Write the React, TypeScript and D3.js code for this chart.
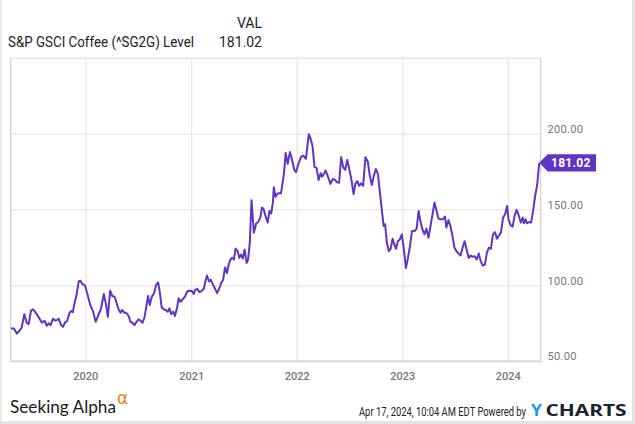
import React from "react";
import * as d3 from "d3";

const dates: string[] = [
  "2019-04-17","2019-04-27","2019-05-07","2019-05-16","2019-05-24","2019-06-02","2019-06-10","2019-06-17","2019-06-25","2019-07-02",
  "2019-07-12","2019-07-24","2019-08-02","2019-08-11","2019-08-19","2019-08-25","2019-09-01","2019-09-09","2019-09-16","2019-09-23",
  "2019-09-29","2019-10-07","2019-10-14","2019-10-21","2019-10-28","2019-11-05","2019-11-11","2019-11-17","2019-11-22","2019-11-30",
  "2019-12-07","2019-12-13","2019-12-20","2019-12-29","2020-01-08","2020-01-17","2020-01-26","2020-02-04","2020-02-13","2020-02-22",
  "2020-03-03","2020-03-11","2020-03-17","2020-03-25","2020-04-01","2020-04-09","2020-04-15","2020-04-23","2020-04-30","2020-05-05",
  "2020-05-14","2020-05-22","2020-05-29","2020-06-03","2020-06-10","2020-06-17","2020-06-24","2020-07-01","2020-07-08","2020-07-15",
  "2020-07-22","2020-07-29","2020-08-03","2020-08-09","2020-08-16","2020-08-23","2020-08-31","2020-09-07","2020-09-14","2020-09-19",
  "2020-09-26","2020-10-03","2020-10-10","2020-10-16","2020-10-22","2020-10-29","2020-11-04","2020-11-11","2020-11-17","2020-11-23",
  "2020-12-01","2020-12-09","2020-12-16","2020-12-24","2021-01-02","2021-01-08","2021-01-13","2021-01-20","2021-01-28","2021-02-05",
  "2021-02-12","2021-02-16","2021-02-23","2021-03-02","2021-03-08","2021-03-16","2021-03-23","2021-03-30","2021-04-07","2021-04-13",
  "2021-04-20","2021-04-26","2021-05-03","2021-05-09","2021-05-15","2021-05-21","2021-05-27","2021-06-02","2021-06-09","2021-06-15",
  "2021-06-21","2021-06-27","2021-07-03","2021-07-10","2021-07-15","2021-07-21","2021-07-27","2021-08-04","2021-08-12","2021-08-20",
  "2021-08-27","2021-09-01","2021-09-07","2021-09-13","2021-09-21","2021-09-27","2021-10-03","2021-10-09","2021-10-12","2021-10-18",
  "2021-10-26","2021-11-06","2021-11-16","2021-11-22","2021-11-29","2021-12-07","2021-12-14","2021-12-22","2021-12-28","2022-01-05",
  "2022-01-14","2022-01-21","2022-01-31","2022-02-10","2022-02-16","2022-02-23","2022-03-02","2022-03-09","2022-03-16","2022-03-23",
  "2022-03-28","2022-04-03","2022-04-09","2022-04-14","2022-04-20","2022-04-26","2022-05-04","2022-05-12","2022-05-19","2022-05-26",
  "2022-06-02","2022-06-09","2022-06-16","2022-06-23","2022-06-30","2022-07-07","2022-07-15","2022-07-21","2022-07-28","2022-08-03",
  "2022-08-10","2022-08-17","2022-08-25","2022-09-02","2022-09-09","2022-09-16","2022-09-23","2022-09-30","2022-10-07","2022-10-14",
  "2022-10-21","2022-10-27","2022-11-01","2022-11-07","2022-11-14","2022-11-20","2022-11-27","2022-12-04","2022-12-09","2022-12-15",
  "2022-12-22","2022-12-29","2023-01-05","2023-01-12","2023-01-19","2023-01-26","2023-02-02","2023-02-11","2023-02-18","2023-02-25",
  "2023-03-03","2023-03-10","2023-03-17","2023-03-24","2023-03-31","2023-04-07","2023-04-14","2023-04-21","2023-04-28","2023-05-05",
  "2023-05-12","2023-05-20","2023-05-27","2023-06-01","2023-06-08","2023-06-15","2023-06-22","2023-06-29","2023-07-06","2023-07-13",
  "2023-07-20","2023-07-27","2023-08-03","2023-08-10","2023-08-17","2023-08-24","2023-08-31","2023-09-07","2023-09-14","2023-09-21",
  "2023-09-28","2023-10-05","2023-10-12","2023-10-19","2023-10-26","2023-11-02","2023-11-09","2023-11-16","2023-11-23","2023-11-30",
  "2023-12-07","2023-12-14","2023-12-21","2023-12-28","2024-01-02","2024-01-09","2024-01-16","2024-01-23","2024-01-30","2024-02-06",
  "2024-02-13","2024-02-20","2024-02-24","2024-03-01","2024-03-06","2024-03-13","2024-03-20","2024-03-27","2024-04-03","2024-04-10",
  "2024-04-17"
];

const values: number[] = [
  71.7,71.7,68.4,70.1,72.4,81.2,75.5,74.6,83.4,84.4,
  82.1,78.4,75.5,76.8,73.5,75.1,73.9,78.1,77.0,77.3,
  78.1,73.9,72.8,75.7,76.6,81.8,83.3,82.4,87.9,93.9,
  102.7,103.2,101.0,100.1,93.2,86.8,82.8,76.1,80.6,84.4,
  94.5,87.2,79.4,96.7,93.2,92.7,89.4,84.4,82.1,83.9,
  82.1,81.7,79.4,76.1,75.5,73.9,76.1,77.7,76.8,75.5,
  79.4,87.2,93.2,87.2,92.7,94.5,100.5,102.1,93.9,85.7,
  84.4,83.9,82.8,85.0,81.2,82.8,79.9,85.0,91.7,89.4,
  91.0,92.7,96.1,96.6,96.5,94.4,97.2,97.9,95.7,96.6,
  97.9,101.7,106.7,102.7,103.9,100.5,97.9,95.0,98.3,101.7,
  103.9,112.0,108.3,113.9,117.2,118.3,117.2,124.5,122.7,118.3,
  120.5,117.8,123.8,115.0,117.2,128.3,156.4,134.9,141.0,142.2,
  145.3,151.6,150.4,146.0,141.6,149.3,147.6,154.9,164.9,158.6,
  160.9,160.9,173.7,187.5,180.4,188.2,183.0,176.4,174.8,180.4,
  184.8,185.9,183.7,199.9,197.0,191.9,178.2,177.7,169.7,174.2,
  171.9,173.7,175.9,173.7,170.4,167.1,170.4,169.7,168.2,167.9,
  184.8,178.2,176.4,183.0,177.0,170.4,160.4,167.1,168.9,165.9,
  167.5,165.9,184.8,182.0,172.6,166.4,172.6,177.0,173.7,161.5,
  149.3,139.3,140.5,128.3,122.7,124.3,130.9,126.5,124.3,129.3,
  130.5,133.8,123.8,111.6,118.3,126.0,136.0,136.0,137.6,149.3,
  142.6,137.1,133.8,137.6,131.6,139.3,147.1,154.9,149.3,144.2,
  143.8,143.8,145.6,138.3,143.3,139.3,132.7,125.0,122.7,121.2,
  119.9,125.0,129.3,123.8,118.3,119.9,119.0,119.4,117.2,121.2,
  116.0,113.2,113.8,121.6,125.0,124.3,133.8,135.3,130.9,133.1,
  135.3,144.9,147.1,152.6,143.8,139.8,138.9,146.0,150.0,146.4,
  141.6,144.9,141.1,143.8,141.1,142.0,141.6,149.3,159.3,166.4,
  181.02
];

const yTicks: number[] = [50, 100, 150, 200];
const xTickYears: string[] = ["2020", "2021", "2022", "2023", "2024"];
const seriesName = "S&P GSCI Coffee (^SG2G) Level";
const lastValueLabel = "181.02";

const W = 635;
const H = 424;
const plot = { left: 10.7, right: 540.7, top: 58.3, bottom: 361.4 };
const LINE = "#6034c6";

export default function App() {
  const parse = d3.timeParse("%Y-%m-%d");
  const data = dates.map((d, i) => ({ date: parse(d) as Date, value: values[i] }));
  const x = d3
    .scaleTime()
    .domain([parse("2019-04-17") as Date, parse("2024-04-17") as Date])
    .range([plot.left + 0.3, plot.right - 1.5]);
  const y = d3.scaleLinear().domain([50, 250]).range([plot.bottom, plot.top]);
  const line = d3
    .line<{ date: Date; value: number }>()
    .x((d) => x(d.date))
    .y((d) => y(d.value));
  const last = data[data.length - 1];
  const lx = x(last.date);
  const ly = y(last.value);

  const font = "Roboto, 'Noto Sans', sans-serif";
  const sx = 0.74;

  return (
    <svg
      width={W}
      height={H}
      style={{ position: "absolute", left: 0, top: 0, background: "#fff" }}
      fontFamily={font}
    >
      <rect x={0} y={0} width={W} height={H} fill="#fff" />
      {/* outer frame */}
      <line x1={0.75} y1={0} x2={0.75} y2={H} stroke="#e3e3e3" strokeWidth={1.5} />
      <line x1={W - 1.5} y1={0} x2={W - 1.5} y2={H} stroke="#e3e3e3" strokeWidth={3} />
      <line x1={0} y1={H - 1.5} x2={W} y2={H - 1.5} stroke="#e3e3e3" strokeWidth={3} />

      {/* header */}
      <text x={262} y={27.5} textAnchor="end" fontSize={14} fill="#222">VAL</text>
      <text x={8} y={46.5} fontSize={14} fill="#222" textLength={186} lengthAdjust="spacingAndGlyphs">{seriesName}</text>
      <text x={262} y={46.5} textAnchor="end" fontSize={14} fill="#222">{lastValueLabel}</text>

      {/* horizontal grid */}
      {yTicks.filter((t) => t > 50).map((t) => (
        <line key={t} x1={plot.left} x2={plot.right} y1={y(t)} y2={y(t)} stroke="#ebebeb" strokeWidth={1.5} />
      ))}
      <line x1={plot.left} x2={plot.right} y1={plot.top} y2={plot.top} stroke="#e6e6e6" strokeWidth={1.5} />
      {/* vertical grid */}
      {xTickYears.map((yr) => {
        const xv = x(parse(`${yr}-01-01`) as Date);
        return (
          <line key={yr} x1={xv} x2={xv} y1={plot.top} y2={plot.bottom} stroke="#e6e6e6" strokeWidth={1.2} />
        );
      })}
      {/* borders */}
      <line x1={plot.left} x2={plot.left} y1={plot.top} y2={plot.bottom} stroke="#cfcfcf" strokeWidth={1.2} />
      <line x1={plot.right} x2={plot.right} y1={plot.top} y2={plot.bottom + 1} stroke="#cfcfcf" strokeWidth={1.2} />
      <line x1={plot.left} x2={plot.right} y1={plot.bottom} y2={plot.bottom} stroke="#d2d2d2" strokeWidth={1.8} />

      {/* y labels */}
      {yTicks.map((t) => (
        <text key={t} x={547.5} y={y(t) - 1} fontSize={11} fill="#757575" letterSpacing={0.3}>
          {t.toFixed(2)}
        </text>
      ))}
      {/* x labels */}
      {xTickYears.map((yr) => (
        <text key={yr} x={x(parse(`${yr}-01-01`) as Date)} y={379.5} textAnchor="middle" fontSize={11} fontWeight={500} fill="#777">
          {yr}
        </text>
      ))}

      {/* series line */}
      <path d={line(data) || ""} fill="none" stroke={LINE} strokeWidth={2} strokeLinejoin="round" />

      {/* last value flag */}
      <path
        d={`M${lx},${ly} L${lx + 8.5},${ly - 8.7} L${596},${ly - 8.7} L${596},${ly + 8.7} L${lx + 8.5},${ly + 8.7} Z`}
        fill={LINE}
      />
      <text x={551} y={ly + 4.3} fontSize={12} fontWeight={700} fill="#fff" letterSpacing={0.3}>
        {lastValueLabel}
      </text>

      {/* footer */}
      <text x={10} y={413} fontSize={17} fill="#1a1a1a" fontFamily="Lato, 'Open Sans', sans-serif" textLength={106} lengthAdjust="spacingAndGlyphs">
        Seeking Alpha
      </text>
      <text x={117} y={403.5} fontSize={17} fill="#f57c1f" fontFamily="'DejaVu Sans', sans-serif">α</text>

      <g transform={`translate(359,415.5) scale(${sx},1)`}>
        <text x={0} y={0} fontSize={13} fill="#222" textLength={167 / sx} lengthAdjust="spacingAndGlyphs">
          Apr 17, 2024, 10:04 AM EDT Powered by
        </text>
      </g>
      <text x={531} y={416} fontSize={16.5} fontWeight={700} fill="#1f9fe3" fontFamily="'Open Sans', Roboto, sans-serif" textLength={11} lengthAdjust="spacingAndGlyphs">
        Y
      </text>
      <text x={545.5} y={416} fontSize={16.5} fontWeight={700} fill="#1c2230" fontFamily="'Open Sans', Roboto, sans-serif" textLength={81} lengthAdjust="spacingAndGlyphs">
        CHARTS
      </text>
    </svg>
  );
}
